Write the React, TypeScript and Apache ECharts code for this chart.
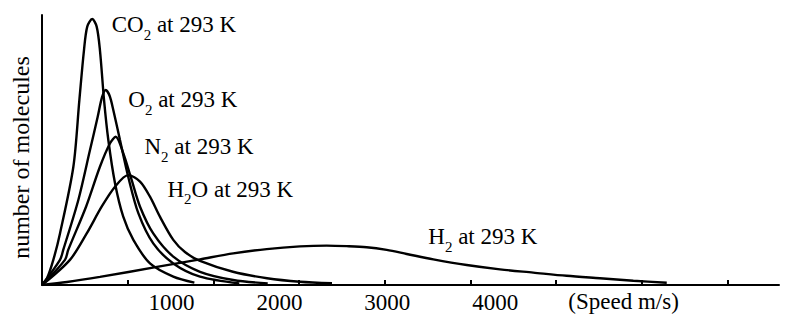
import React, { useEffect, useRef } from 'react';
import * as echarts from 'echarts';

// speed (m/s) vs relative number of molecules (0..100)
const co2: number[][] = [[0,0],[30,2.6],[66,9.3],[105,19.1],[183,43.8],[218,68.5],[245,87],[264,95.7],[293,98.5],[319,95.7],[338,87],[362,68.5],[387,53.7],[426,37.7],[474,25.3],[533,16.7],[630,8.0],[766,3.1],[889,0.85]];
const o2: number[][] = [[0,0],[105,9.3],[124,13.0],[212,31.5],[280,50],[325,62.3],[350,69.5],[372,72.2],[395,70],[416,64.8],[455,53.7],[503,40.1],[562,26.6],[649,15.4],[766,8.0],[922,3.1],[1151,0.6]];
const n2: number[][] = [[0,0],[134,9.3],[153,13],[257,29],[338,43.8],[397,52.5],[430,54.9],[474,48.8],[523,38.9],[572,29],[649,19.1],[766,10.5],[922,4.9],[1116,1.85],[1317,0.6]];
const h2o: number[][] = [[0,0],[163,9.3],[261,19.1],[348,29],[426,36.4],[503,40.7],[572,38.3],[630,32.7],[688,25.3],[766,16.7],[834,12.2],[922,8.9],[1114,4.9],[1313,2.5],[1505,1.2],[1692,0.63]];
const h2: number[][] = [[0,0],[146,1.1],[338,3.0],[671,6.7],[922,9.5],[1116,11.7],[1311,13.3],[1505,14.3],[1661,14.6],[1778,14.4],[1894,14.0],[2011,13.0],[2128,11.5],[2283,9.5],[2478,7.4],[2672,5.8],[2866,4.6],[3061,3.4],[3255,2.5],[3450,1.6],[3645,0.85]];

const seriesNames = ['CO2', 'O2', 'N2', 'H2O', 'H2'];
const seriesData = [co2, o2, n2, h2o, h2];
const labelParts = [
  ['CO', '2', ' at 293 K'],
  ['O', '2', ' at 293 K'],
  ['N', '2', ' at 293 K'],
  ['H', '2', 'O at 293 K'],
  ['H', '2', ' at 293 K'],
];
const tickValues = [500, 1000, 1500, 2000, 2500, 3000, 3500, 4000];
const tickLabels = [1000, 2000, 3000, 4000];
const xTitle = '(Speed m/s)';
const yTitle = 'number of molecules';

const FONT = '"Liberation Serif", "Times New Roman", serif';
const labelPos = [[111.7, 13.3], [128.3, 88], [144.5, 135], [167.5, 177.7], [428.3, 225]];

export default function App() {
  const ref = useRef<HTMLDivElement>(null);
  useEffect(() => {
    if (!ref.current) return;
    const chart = echarts.init(ref.current, undefined, { renderer: 'svg' });
    const rich = {
      a: { fontSize: 23, fontFamily: FONT, fill: '#000', lineHeight: 26, verticalAlign: 'top' },
      s: { fontSize: 15, fontFamily: FONT, fill: '#000', lineHeight: 15, verticalAlign: 'top', padding: [14, 0, 0, 0] },
    };
    const graphics: any[] = labelParts.map((p, i) => ({
      type: 'text',
      x: labelPos[i][0],
      y: labelPos[i][1],
      style: {
        text: `{a|${p[0]}}{s|${p[1]}}{a|${p[2]}}`,
        rich,
        textAlign: 'left',
        textVerticalAlign: 'top',
      },
    }));
    graphics.push({
      type: 'text', x: 568.3, y: 290,
      style: { text: xTitle, font: `23px ${FONT}`, fill: '#000', textAlign: 'left', textVerticalAlign: 'top' },
    });
    graphics.push({
      type: 'text', x: 21, y: 157.5, rotation: Math.PI / 2,
      style: { text: yTitle, font: `24px ${FONT}`, fill: '#000', textAlign: 'center', textVerticalAlign: 'middle' },
    });
    chart.setOption({
      animation: false,
      backgroundColor: '#fff',
      grid: { left: 42, right: 15, top: 15, bottom: 46, containLabel: false },
      xAxis: [
        {
          type: 'value', min: 0, max: 4300,
          axisLine: { show: true, onZero: false, lineStyle: { color: '#000', width: 2 } },
          axisTick: { show: true, inside: true, length: 5, customValues: tickValues, lineStyle: { color: '#000', width: 2 } },
          axisLabel: { show: false },
          splitLine: { show: false },
        },
        {
          type: 'value', min: -200, max: 6630, position: 'bottom',
          axisLine: { show: false, onZero: false },
          axisTick: { show: false },
          axisLabel: {
            show: true, customValues: tickLabels, fontSize: 23, fontFamily: FONT, color: '#000', margin: 6,
            formatter: (v: number) => String(v),
          },
          splitLine: { show: false },
        },
      ],
      yAxis: {
        type: 'value', min: 0, max: 100,
        axisLine: { show: true, lineStyle: { color: '#000', width: 2 } },
        axisTick: { show: false },
        axisLabel: { show: false },
        splitLine: { show: false },
      },
      series: seriesData.map((d, i) => ({
        name: seriesNames[i],
        type: 'line',
        xAxisIndex: 0,
        data: d,
        smooth: 0.3,
        showSymbol: false,
        symbol: 'none',
        lineStyle: { color: '#000', width: 2.4 },
        z: 3,
      })),
      graphic: graphics,
    });
    return () => chart.dispose();
  }, []);
  return <div ref={ref} style={{ position: 'fixed', left: 0, top: 0, width: 794, height: 331, background: '#fff' }} />;
}
